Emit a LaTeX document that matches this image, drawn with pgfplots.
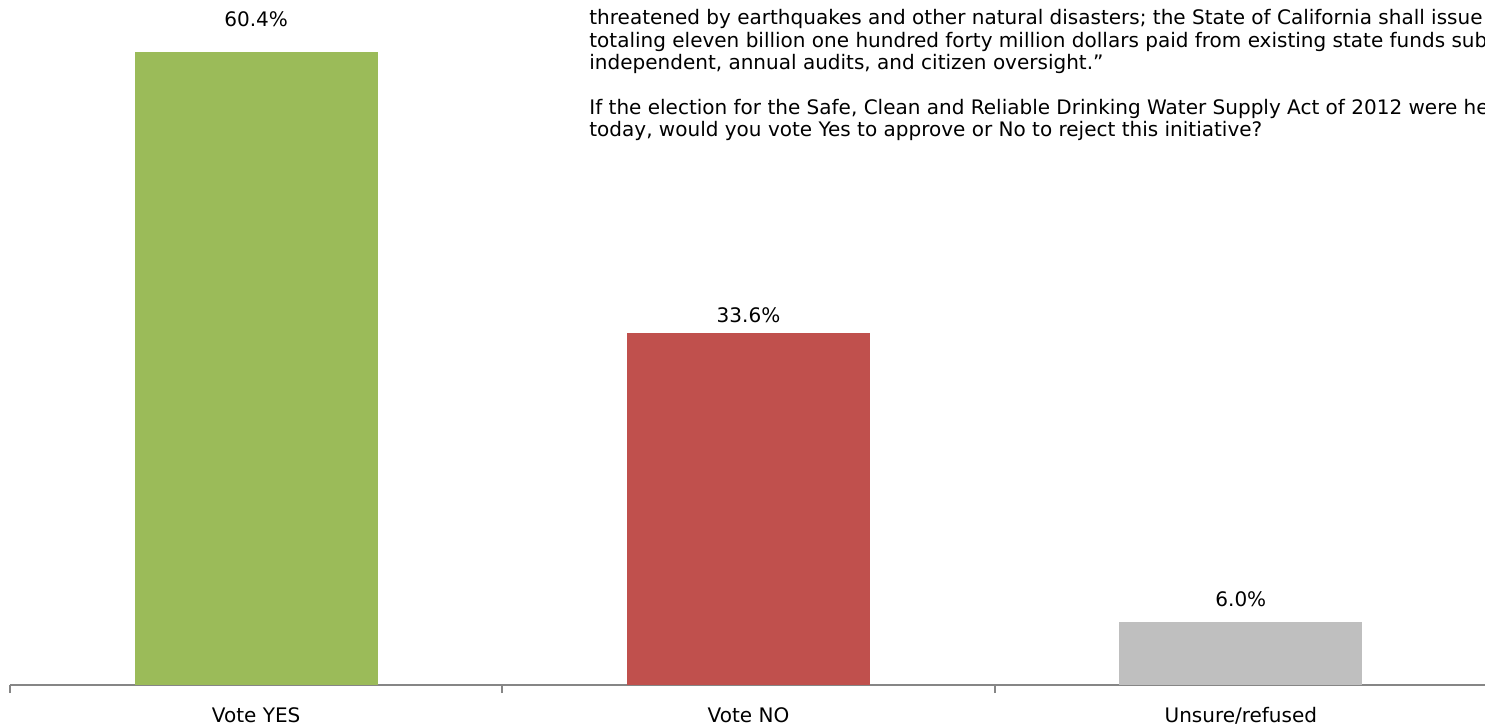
\documentclass[border=0pt]{standalone}
\usepackage{pgfplots}
\pgfplotsset{compat=1.18}
\usepackage{fontspec}
\setmainfont{DejaVu Sans}
\definecolor{yescolor}{HTML}{9BBB59}
\definecolor{nocolor}{HTML}{C0504D}
\definecolor{unsurecolor}{HTML}{BFBFBF}
\definecolor{axisgray}{HTML}{868686}
\newcommand{\chartfont}{\fontsize{10bp}{11bp}\selectfont}

\begin{document}
\begin{tikzpicture}
\begin{scope}
\clip (-5bp,-21bp) rectangle (737.5bp,342.5bp);
\begin{axis}[
    at={(0,0)}, anchor=south west,
    scale only axis,
    width=738.5bp,
    height=342.5bp,
    ybar,
    bar width=121.5bp,
    bar shift=0pt,
    xmin=-0.5, xmax=2.5,
    ymin=0, ymax=65.39,
    axis x line*=bottom,
    axis y line=none,
    x axis line style={draw=axisgray, line width=1bp},
    xtick={-0.5,0.5,1.5,2.5},
    xticklabels={},
    tick align=outside,
    major tick length=4bp,
    tick style={draw=axisgray, line width=1bp},
    extra x ticks={0,1,2},
    extra x tick labels={Vote YES, Vote NO, Unsure/refused},
    extra x tick style={major tick length=0pt,
        tick label style={anchor=base, yshift=-18.5bp}},
    xticklabel style={font=\chartfont, text=black},
    /pgf/number format/assume math mode=true,
    nodes near coords={\pgfmathprintnumber[fixed,fixed zerofill,precision=1]{\pgfplotspointmeta}\%},
    nodes near coords style={font=\chartfont, text=black, anchor=base, inner sep=0pt},
    clip=false,
]
\addplot[fill=yescolor, draw=none, nodes near coords style={yshift=13bp}] coordinates {(0,60.4)};
\addplot[fill=nocolor, draw=none, nodes near coords style={yshift=5.5bp}] coordinates {(1,33.6)};
\addplot[fill=unsurecolor, draw=none, nodes near coords style={yshift=8bp}] coordinates {(2,6.0)};
\end{axis}
\begin{scope}[every node/.style={anchor=base west, inner sep=0pt, font=\chartfont, text=black}]
\node at (289.5bp,330bp) {threatened by earthquakes and other natural disasters; the State of California shall issue bonds};
\node at (289.5bp,318.5bp) {totaling eleven billion one hundred forty million dollars paid from existing state funds subject to};
\node at (289.5bp,307.5bp) {independent, annual audits, and citizen oversight.”};
\node at (289.5bp,285bp) {If the election for the Safe, Clean and Reliable Drinking Water Supply Act of 2012 were held};
\node at (289.5bp,274bp) {today, would you vote Yes to approve or No to reject this initiative?};
\end{scope}
\end{scope}
\pgfresetboundingbox
\path[use as bounding box] (-5bp,-21bp) rectangle (737.5bp,342.5bp);
\end{tikzpicture}
\end{document}
